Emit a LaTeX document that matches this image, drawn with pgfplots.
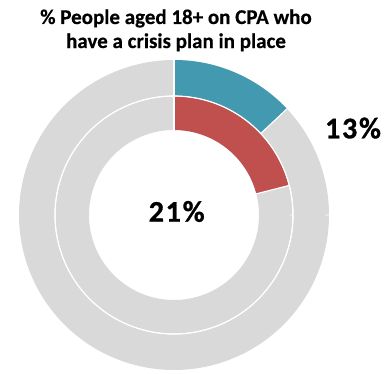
\documentclass[border=0pt]{standalone}
\usepackage{fontspec}
\setmainfont{Carlito}
\usepackage{pgfplots}
\usepackage{pgfplotstable}
\pgfplotsset{compat=1.18}
\definecolor{ringblue}{RGB}{66,153,176}
\definecolor{ringred}{RGB}{192,80,77}
\definecolor{ringgray}{RGB}{217,217,217}
\pgfplotstableread{
ring value
outer 13
inner 21
}\ringdata
\begin{document}
\begin{tikzpicture}
\pgfplotstablegetelem{0}{value}\of\ringdata \let\outerval\pgfplotsretval
\pgfplotstablegetelem{1}{value}\of\ringdata \let\innerval\pgfplotsretval
\pgfmathsetmacro{\outerang}{90-3.6*\outerval}
\pgfmathsetmacro{\innerang}{90-3.6*\innerval}
\begin{axis}[
  width=387pt, height=373pt, scale only axis,
  xmin=-174, xmax=213, ymin=-158, ymax=215,
  hide axis, clip=false,
]
% outer ring background and segment
\addplot[ringgray, line width=35.5pt, domain=0:360, samples=180] ({137.25*cos(x)},{137.25*sin(x)});
\addplot[ringblue, line width=35.5pt, domain=90:\outerang, samples=60] ({137.25*cos(x)},{137.25*sin(x)});
% inner ring background and segment
\addplot[ringgray, line width=33.5pt, domain=0:360, samples=180] ({101.75*cos(x)},{101.75*sin(x)});
\addplot[ringred, line width=33.5pt, domain=90:\innerang, samples=60] ({101.75*cos(x)},{101.75*sin(x)});
% white separators
\addplot[white, line width=1.2pt, domain=0:360, samples=180] ({119*cos(x)},{119*sin(x)});
\addplot[white, line width=1.2pt, domain=84.5:156, samples=2] ({x*cos(90)},{x*sin(90)});
\addplot[white, line width=1.2pt, domain=119:156, samples=2] ({x*cos(\outerang)},{x*sin(\outerang)});
\addplot[white, line width=1.2pt, domain=84.5:119, samples=2] ({x*cos(\innerang)},{x*sin(\innerang)});
% labels
\node[font=\bfseries\fontsize{21}{24}\selectfont\addfontfeature{FakeBold=0.4}, anchor=base, inner sep=0pt] at (axis cs:2,191) {\% People aged 18+ on CPA who};
\node[font=\bfseries\fontsize{21}{24}\selectfont\addfontfeature{FakeBold=0.4}, anchor=base, inner sep=0pt] at (axis cs:2,167) {have a crisis plan in place};
\node[font=\bfseries\fontsize{30}{34}\selectfont\addfontfeature{LetterSpace=6,FakeBold=1}, anchor=base, inner sep=0pt] at (axis cs:179,76.7) {13\%};
\node[font=\bfseries\fontsize{30}{34}\selectfont\addfontfeature{LetterSpace=6,FakeBold=1}, anchor=base, inner sep=0pt] at (axis cs:2.7,-6.7) {21\%};
\end{axis}
\pgfresetboundingbox
\path[use as bounding box] (current axis.south west) rectangle (current axis.north east);
\end{tikzpicture}
\end{document}
